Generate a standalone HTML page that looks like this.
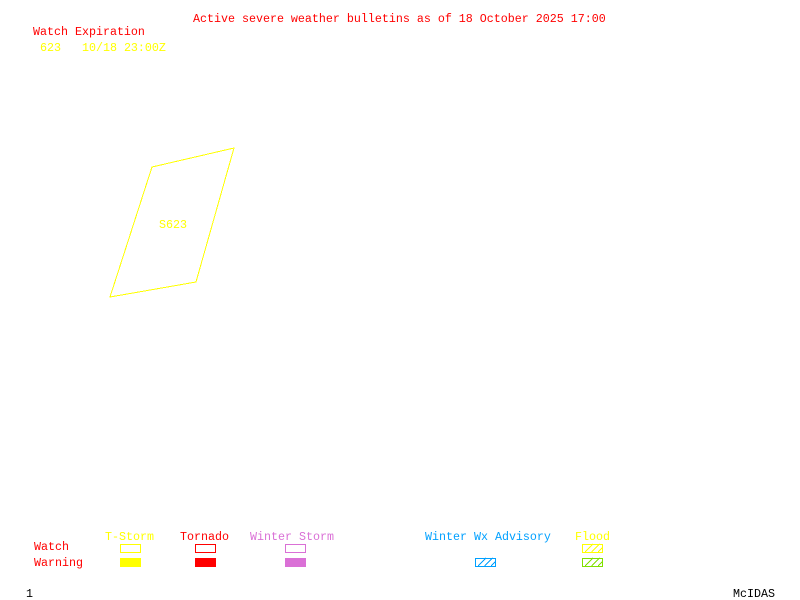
<!DOCTYPE html>
<html>
<head>
<meta charset="utf-8">
<style>
html,body{margin:0;padding:0;background:#fff;width:800px;height:600px;overflow:hidden}
svg{display:block}
text{font-family:"Liberation Mono","DejaVu Sans Mono",monospace;font-size:11.67px;white-space:pre}
</style>
</head>
<body>
<svg width="800" height="600" viewBox="0 0 800 600" xmlns="http://www.w3.org/2000/svg">
<rect width="800" height="600" fill="#fff"/>
<text x="193" y="22" fill="#f00">Active severe weather bulletins as of 18 October 2025 17:00</text>
<text x="33" y="35" fill="#f00">Watch Expiration</text>
<text x="40" y="51" fill="#ff0">623   10/18 23:00Z</text>
<polygon points="152,167 234,148 196,282 110,297" fill="none" stroke="#ff0" stroke-width="1" shape-rendering="crispEdges"/>
<text x="159" y="228" fill="#ff0">S623</text>

<text x="105" y="540" fill="#ff0">T-Storm</text>
<text x="180" y="540" fill="#f00">Tornado</text>
<text x="250" y="540" fill="#da70d6">Winter Storm</text>
<text x="425" y="540" fill="#00a0ff">Winter Wx Advisory</text>
<text x="575" y="540" fill="#ff0">Flood</text>
<text x="34" y="550" fill="#f00">Watch</text>
<text x="34" y="566" fill="#f00">Warning</text>

<g shape-rendering="crispEdges" fill="none">
<rect x="120.5" y="544.5" width="20" height="8" stroke="#ff0"/>
<rect x="195.5" y="544.5" width="20" height="8" stroke="#f00"/>
<rect x="285.5" y="544.5" width="20" height="8" stroke="#da70d6"/>
<rect x="120" y="558" width="21" height="9" fill="#ff0"/>
<rect x="195" y="558" width="21" height="9" fill="#f00"/>
<rect x="285" y="558" width="21" height="9" fill="#da70d6"/>
<rect x="475.5" y="558.5" width="20" height="8" stroke="#00a0ff"/>
<rect x="582.5" y="544.5" width="20" height="8" stroke="#ff0"/>
<rect x="582.5" y="558.5" width="20" height="8" stroke="#80e000"/>
<path d="M478,566L486,558M484.500,566L492.500,558M491,566L495,562" stroke="#00a0ff"/>
<path d="M585,552L593,544M591.500,552L599.500,544M598,552L602,548" stroke="#ff0"/>
<path d="M585,566L593,558M591.500,566L599.500,558M598,566L602,562" stroke="#80e000"/>
</g>
<text x="26" y="597" fill="#000">1</text>
<text x="733" y="597" fill="#000">McIDAS</text>
</svg>
</body>
</html>
